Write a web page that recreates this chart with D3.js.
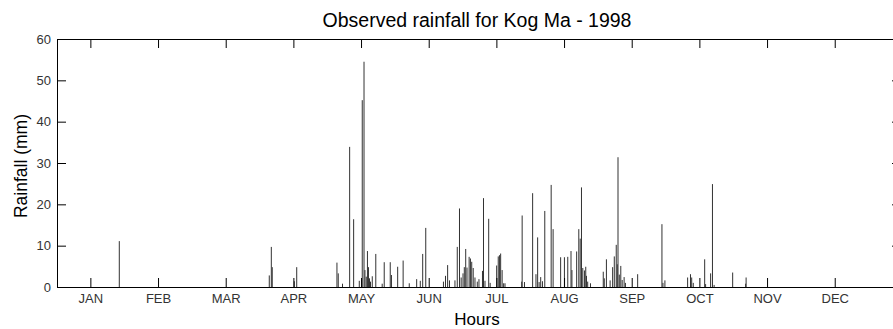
<!DOCTYPE html>
<html>
<head>
<meta charset="utf-8">
<script src="https://cdnjs.cloudflare.com/ajax/libs/d3/7.8.5/d3.min.js"></script>
<style>
  body { margin: 0; background: #fff; }
  svg { display: block; font-family: "Liberation Sans", Arial, sans-serif; }
</style>
</head>
<body>
<svg id="chart" width="893" height="329"></svg>
<script>
// month ticks along the hour axis
const monthLabels = ["JAN", "FEB", "MAR", "APR", "MAY", "JUN", "JUL", "AUG", "SEP", "OCT", "NOV", "DEC"];
const monthTickHours = [360, 1090, 1820, 2550, 3280, 4010, 4740, 5470, 6200, 6930, 7660, 8390];
const yTicks = [0, 10, 20, 30, 40, 50, 60];

// hourly rainfall (hour of year, mm)
const rainHours = [
  672,
  2290, 2312, 2322, 2560, 2586,
  3020, 3034, 3080, 3157, 3200, 3261, 3293, 3312, 3322, 3336, 3349, 3360, 3371, 3382,
  3401, 3439, 3508, 3530, 3595, 3608, 3675, 3734, 3800, 3880, 3919, 3945, 3978,
  4169, 4191, 4214, 4234, 4293, 4318, 4342, 4360, 4380, 4394, 4409, 4423, 4446, 4460,
  4474, 4490, 4509, 4534, 4552, 4590, 4601, 4617, 4657, 4673,
  4743, 4760, 4773, 4786, 4802, 4818, 4833,
  5013, 5018, 5043, 5131, 5167, 5185, 5201, 5218, 5237, 5262, 5331, 5352,
  5433, 5474, 5510, 5545, 5555, 5606, 5629, 5644, 5658, 5672, 5690, 5704, 5712, 5725, 5755,
  5893, 5904, 5927, 5967, 5994, 6012, 6033, 6044, 6052, 6066, 6082, 6097, 6118, 6132,
  6264, 6526, 6537, 6558,
  6803, 6834, 6847, 6864, 6987, 6997, 7051, 7071, 7089, 7289, 7429, 7434
];
const rainMm = [
  11.1,
  2.8, 9.7, 4.8, 1.4, 4.8,
  5.9, 3.3, 0.8, 33.9, 16.4, 1.5, 45.2, 54.5, 4.1, 2.5, 8.7, 4.8, 2.1, 1.3,
  2.6, 8.0, 0.8, 6.0, 6.0, 2.9, 4.9, 6.4, 0.9, 1.9, 1.5, 8.0, 14.3,
  1.3, 2.7, 5.3, 1.6, 1.6, 9.7, 19.0, 2.3, 3.3, 4.8, 9.2, 4.7, 7.3, 6.9,
  6.1, 4.6, 2.3, 1.3, 1.9, 3.9, 21.5, 1.5, 16.5, 1.0,
  5.2, 7.4, 7.7, 8.1, 4.1, 0.9, 0.9,
  1.3, 17.3, 1.2, 22.7, 3.1, 12.0, 1.2, 2.4, 1.4, 18.4, 24.7, 14.0,
  7.2, 7.2, 7.3, 8.7, 4.1, 8.6, 14.0, 11.7, 24.1, 4.6, 4.0, 4.9, 2.7, 1.3, 0.9,
  3.7, 2.1, 6.7, 1.6, 4.8, 7.4, 10.2, 5.5, 31.4, 3.0, 5.1, 1.7, 2.4, 1.0,
  3.1, 15.2, 1.0, 1.6,
  2.3, 3.1, 2.3, 1.0, 6.7, 0.7, 3.3, 24.9, 0.5, 3.5, 0.8, 2.3
];

const svg = d3.select("#chart");
const W = 893, H = 329;
// right edge of the axes box sits just outside the window, as in the original
const x0 = 57, x1 = 901, y0 = 39, y1 = 287;
const tickLen = 9;

svg.append("rect").attr("width", W).attr("height", H).attr("fill", "#fff");

const x = d3.scaleLinear().domain([0, 9105]).range([x0, x1]);
const y = d3.scaleLinear().domain([0, 60]).range([y1, y0]);

// bars
svg.append("g")
  .selectAll("rect")
  .data(rainHours.map((h, i) => ({ h, v: rainMm[i] })))
  .join("rect")
  .attr("x", d => x(d.h) - 0.5)
  .attr("width", 1)
  .attr("y", d => y(d.v))
  .attr("height", d => y(0) - y(d.v))
  .attr("fill", "#333");

// axes, ticks pointing inward on all four sides
const bottomAxis = d3.axisBottom(x).tickValues(monthTickHours)
  .tickFormat((d, i) => monthLabels[i]).tickSizeInner(-tickLen).tickSizeOuter(0).tickPadding(7);
const topAxis = d3.axisTop(x).tickValues(monthTickHours)
  .tickFormat("").tickSizeInner(-tickLen).tickSizeOuter(0);
const leftAxis = d3.axisLeft(y).tickValues(yTicks)
  .tickSizeInner(-tickLen).tickSizeOuter(0).tickPadding(6);
const rightAxis = d3.axisRight(y).tickValues(yTicks)
  .tickFormat("").tickSizeInner(-tickLen).tickSizeOuter(0);

const gb = svg.append("g").attr("transform", `translate(0,${y1})`).call(bottomAxis);
const gt = svg.append("g").attr("transform", `translate(0,${y0})`).call(topAxis);
const gl = svg.append("g").attr("transform", `translate(${x0},0)`).call(leftAxis);
const gr = svg.append("g").attr("transform", `translate(${x1},0)`).call(rightAxis);

[gb, gt, gl, gr].forEach(g => {
  g.select(".domain").attr("stroke", "#000").attr("stroke-width", 1);
  g.selectAll(".tick line").attr("stroke", "#000").attr("stroke-width", 1);
  g.selectAll(".tick text").attr("fill", "#333").attr("font-size", 13)
    .attr("font-family", "Liberation Sans, Arial, sans-serif");
});

// labels
svg.append("text")
  .attr("x", 477).attr("y", 27)
  .attr("text-anchor", "middle").attr("font-size", 19.5).attr("fill", "#000")
  .text("Observed rainfall for Kog Ma - 1998");

svg.append("text")
  .attr("x", 477).attr("y", 325)
  .attr("text-anchor", "middle").attr("font-size", 17).attr("fill", "#000")
  .text("Hours");

svg.append("text")
  .attr("transform", `translate(27,166) rotate(-90)`)
  .attr("text-anchor", "middle").attr("font-size", 17.5).attr("fill", "#000")
  .text("Rainfall (mm)");
</script>
</body>
</html>
